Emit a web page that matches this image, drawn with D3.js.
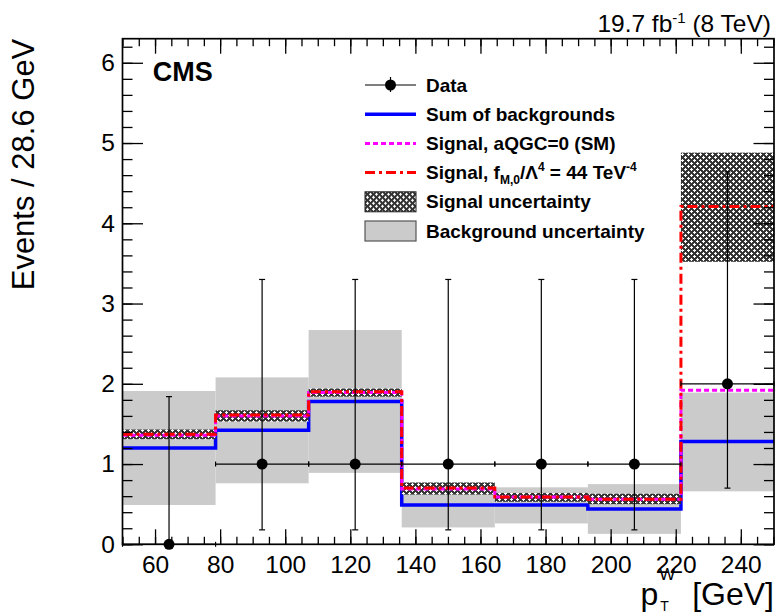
<!DOCTYPE html>
<html>
<head>
<meta charset="utf-8">
<script src="https://cdn.jsdelivr.net/npm/d3@7"></script>
<style>
	body { margin: 0; background: #fff; }
	svg text { font-family: "Liberation Sans", Arial, Helvetica, sans-serif; fill: #000; }
	.axis path.domain { display: none; }
	.axis line { stroke: #000; stroke-width: 1.3; }
</style>
</head>
<body>
<div id="chart"></div>
<script>
	// bins of 28.6 GeV in p_T^W
	var binEdges = [50, 78.6, 107.2, 135.8, 164.4, 193.0, 221.6, 250.2];

	var dataCounts = [0, 1, 1, 1, 1, 1, 2];
	var dataErrLow = [0, 0.82, 0.82, 0.82, 0.82, 0.82, 1.30];
	var dataErrHigh = [1.84, 2.30, 2.30, 2.30, 2.30, 2.30, 2.64];

	var bkgSum = [1.20, 1.42, 1.78, 0.49, 0.49, 0.44, 1.28];
	var bkgUncLow = [0.49, 0.76, 0.89, 0.21, 0.26, 0.13, 0.66];
	var bkgUncHigh = [1.91, 2.08, 2.67, 0.70, 0.71, 0.75, 1.89];

	var signalSM = [1.36, 1.60, 1.89, 0.69, 0.59, 0.56, 1.92];
	var signalAqgc = [1.37, 1.61, 1.90, 0.70, 0.59, 0.56, 4.21];
	var signalUncLow = [1.31, 1.53, 1.84, 0.62, 0.53, 0.50, 3.52];
	var signalUncHigh = [1.43, 1.67, 1.94, 0.77, 0.64, 0.63, 4.88];

	var xTickLabels = [60, 80, 100, 120, 140, 160, 180, 200, 220, 240];
	var yTickLabels = [0, 1, 2, 3, 4, 5, 6];

	var legendLabels = ['Data', 'Sum of backgrounds', 'Signal, aQGC=0 (SM)',
		'Signal, f_M,0/Λ^4 = 44 TeV^-4', 'Signal uncertainty', 'Background uncertainty'];

	(function () {
		"use strict";

		var width = 777, height = 614;
		var frame = { left: 122.5, right: 774, top: 38.7, bottom: 544.3 };

		var x = d3.scaleLinear().domain([50, 250.2]).range([frame.left, frame.right]);
		var y = d3.scaleLinear().domain([0, 6.3]).range([frame.bottom, frame.top]);

		var svg = d3.select('#chart')
			.append('svg')
			.attr('width', width)
			.attr('height', height);

		defineHatch(svg);

		var bins = dataCounts.map(function (count, i) {
			return {
				lo: binEdges[i],
				hi: binEdges[i + 1],
				center: (binEdges[i] + binEdges[i + 1]) / 2,
				count: count,
				errLow: dataErrLow[i],
				errHigh: dataErrHigh[i]
			};
		});

		var plot = svg.append('g');

		// background uncertainty band
		plot.selectAll('.bkg-unc')
			.data(bins)
			.enter()
			.append('rect')
			.classed('bkg-unc', true)
			.attr('x', function (d) { return x(d.lo); })
			.attr('width', function (d) { return x(d.hi) - x(d.lo); })
			.attr('y', function (d, i) { return y(bkgUncHigh[i]); })
			.attr('height', function (d, i) { return y(bkgUncLow[i]) - y(bkgUncHigh[i]); })
			.attr('fill', '#cbcbcb');

		drawStep(plot, bkgSum, { stroke: '#0000ff', width: 3.5 });

		// signal uncertainty band
		plot.selectAll('.sig-unc')
			.data(bins)
			.enter()
			.append('rect')
			.classed('sig-unc', true)
			.attr('x', function (d) { return x(d.lo); })
			.attr('width', function (d) { return x(d.hi) - x(d.lo); })
			.attr('y', function (d, i) { return y(signalUncHigh[i]); })
			.attr('height', function (d, i) { return y(signalUncLow[i]) - y(signalUncHigh[i]); })
			.attr('fill', 'url(#hatch)');

		drawStep(plot, signalSM, { stroke: '#ff00ff', width: 3, dash: '5,3' });
		drawStep(plot, signalAqgc, { stroke: '#ff0000', width: 3, dash: '10,4,3,4' });

		// data points with error bars
		var points = plot.selectAll('.data-point')
			.data(bins)
			.enter()
			.append('g')
			.classed('data-point', true);

		points.append('line')
			.attr('x1', function (d) { return x(d.center); })
			.attr('x2', function (d) { return x(d.center); })
			.attr('y1', function (d) { return y(d.count - d.errLow); })
			.attr('y2', function (d) { return y(d.count + d.errHigh); });

		points.append('line')
			.attr('x1', function (d) { return x(d.lo); })
			.attr('x2', function (d) { return x(d.hi); })
			.attr('y1', function (d) { return y(d.count); })
			.attr('y2', function (d) { return y(d.count); });

		points.append('line')
			.attr('x1', function (d) { return x(d.center) - 3; })
			.attr('x2', function (d) { return x(d.center) + 3; })
			.attr('y1', function (d) { return y(d.count + d.errHigh); })
			.attr('y2', function (d) { return y(d.count + d.errHigh); });

		points.append('line')
			.attr('x1', function (d) { return x(d.center) - 3; })
			.attr('x2', function (d) { return x(d.center) + 3; })
			.attr('y1', function (d) { return y(d.count - d.errLow); })
			.attr('y2', function (d) { return y(d.count - d.errLow); });

		points.selectAll('.hcap')
			.data(function (d) { return [[d.lo, d.count], [d.hi, d.count]]; })
			.enter()
			.append('line')
			.attr('x1', function (p) { return x(p[0]); })
			.attr('x2', function (p) { return x(p[0]); })
			.attr('y1', function (p) { return y(p[1]) - 2.5; })
			.attr('y2', function (p) { return y(p[1]) + 2.5; });

		points.selectAll('line')
			.attr('stroke', '#000')
			.attr('stroke-width', 1.2);

		points.append('circle')
			.attr('cx', function (d) { return x(d.center); })
			.attr('cy', function (d) { return y(d.count); })
			.attr('r', 5.5)
			.attr('fill', '#000');

		drawAxes(svg, x, y, frame);
		drawLegend(svg);
		drawTexts(svg, frame);

		function drawStep(container, values, style) {
			var pts = values.map(function (v, i) { return [binEdges[i], v]; });
			pts.push([binEdges[binEdges.length - 1], values[values.length - 1]]);

			var line = d3.line()
				.x(function (p) { return x(p[0]); })
				.y(function (p) { return y(p[1]); })
				.curve(d3.curveStepAfter);

			container.append('path')
				.attr('d', line(pts))
				.attr('fill', 'none')
				.attr('stroke', style.stroke)
				.attr('stroke-width', style.width)
				.attr('stroke-dasharray', style.dash || null);
		}
	}());

	function defineHatch(svg) {
		var pattern = svg.append('defs')
			.append('pattern')
			.attr('id', 'hatch')
			.attr('patternUnits', 'userSpaceOnUse')
			.attr('width', 6)
			.attr('height', 6);

		pattern.append('rect')
			.attr('width', 6)
			.attr('height', 6)
			.attr('fill', '#333');

		pattern.append('path')
			.attr('d', 'M0,1.5 H3 M1.5,0 V3 M3,4.5 H6 M4.5,3 V6')
			.attr('stroke', '#fff')
			.attr('stroke-width', 1.1)
			.attr('fill', 'none');
	}

	function drawAxes(svg, x, y, frame) {
		var xMinor = d3.range(50, 251, 5);
		var yMinor = d3.range(0, 6.3, 0.2);

		var bottom = svg.append('g')
			.classed('axis', true)
			.attr('transform', 'translate(0,' + frame.bottom + ')');
		bottom.call(d3.axisBottom(x).tickValues(xMinor).tickSizeInner(-7.5).tickSizeOuter(0).tickFormat(''));
		bottom.append('g')
			.call(d3.axisBottom(x).tickValues(xTickLabels).tickSizeInner(-15).tickSizeOuter(0)
				.tickPadding(11).tickFormat(d3.format('d')));

		var top = svg.append('g')
			.classed('axis', true)
			.attr('transform', 'translate(0,' + frame.top + ')');
		top.call(d3.axisTop(x).tickValues(xMinor).tickSizeInner(-7.5).tickSizeOuter(0).tickFormat(''));
		top.append('g')
			.call(d3.axisTop(x).tickValues(xTickLabels).tickSizeInner(-15).tickSizeOuter(0).tickFormat(''));

		var left = svg.append('g')
			.classed('axis', true)
			.attr('transform', 'translate(' + frame.left + ',0)');
		left.call(d3.axisLeft(y).tickValues(yMinor).tickSizeInner(-10).tickSizeOuter(0).tickFormat(''));
		left.append('g')
			.call(d3.axisLeft(y).tickValues(yTickLabels).tickSizeInner(-20.5).tickSizeOuter(0)
				.tickPadding(7.5).tickFormat(d3.format('d')));

		var right = svg.append('g')
			.classed('axis', true)
			.attr('transform', 'translate(' + frame.right + ',0)');
		right.call(d3.axisRight(y).tickValues(yMinor).tickSizeInner(-10).tickSizeOuter(0).tickFormat(''));
		right.append('g')
			.call(d3.axisRight(y).tickValues(yTickLabels).tickSizeInner(-20.5).tickSizeOuter(0).tickFormat(''));

		svg.selectAll('.axis text')
			.attr('font-family', '"Liberation Sans", Arial, sans-serif')
			.attr('font-size', 24.5);

		svg.append('rect')
			.attr('x', frame.left)
			.attr('y', frame.top)
			.attr('width', frame.right - frame.left)
			.attr('height', frame.bottom - frame.top)
			.attr('fill', 'none')
			.attr('stroke', '#000')
			.attr('stroke-width', 1.7);
	}

	function drawLegend(svg) {
		var rowY = d3.scalePoint().domain(d3.range(legendLabels.length)).range([85, 231]);
		var symX0 = 365, symX1 = 416, textX = 426;

		var rows = svg.append('g')
			.selectAll('.legend-row')
			.data(legendLabels)
			.enter()
			.append('g')
			.classed('legend-row', true)
			.attr('transform', function (d, i) { return 'translate(0,' + rowY(i) + ')'; });

		rows.each(function (label, i) {
			var row = d3.select(this);
			if (i === 0) {
				row.append('line').attr('x1', symX0).attr('x2', symX1).attr('y1', 0).attr('y2', 0)
					.attr('stroke', '#000').attr('stroke-width', 1.2);
				row.append('line').attr('x1', (symX0 + symX1) / 2).attr('x2', (symX0 + symX1) / 2)
					.attr('y1', -8).attr('y2', 7).attr('stroke', '#000').attr('stroke-width', 1.2);
				row.append('circle').attr('cx', (symX0 + symX1) / 2).attr('cy', 0).attr('r', 5.5).attr('fill', '#000');
			} else if (i === 1) {
				row.append('line').attr('x1', symX0).attr('x2', symX1).attr('y1', 0).attr('y2', 0)
					.attr('stroke', '#0000ff').attr('stroke-width', 3.5);
			} else if (i === 2) {
				row.append('line').attr('x1', symX0).attr('x2', symX1).attr('y1', 0).attr('y2', 0)
					.attr('stroke', '#ff00ff').attr('stroke-width', 3).attr('stroke-dasharray', '5,3');
			} else if (i === 3) {
				row.append('line').attr('x1', symX0).attr('x2', symX1).attr('y1', 0).attr('y2', 0)
					.attr('stroke', '#ff0000').attr('stroke-width', 3).attr('stroke-dasharray', '10,4,3,4');
			} else if (i === 4) {
				row.append('rect').attr('x', symX0).attr('y', -10).attr('width', symX1 - symX0).attr('height', 20)
					.attr('fill', 'url(#hatch)').attr('stroke', '#222').attr('stroke-width', 1);
			} else {
				row.append('rect').attr('x', symX0).attr('y', -10).attr('width', symX1 - symX0).attr('height', 20)
					.attr('fill', '#cbcbcb').attr('stroke', '#555').attr('stroke-width', 1.2);
			}

			var text = row.append('text')
				.attr('x', textX)
				.attr('y', 6.5)
				.attr('font-size', 19)
				.attr('font-weight', 'bold');

			if (i === 3) {
				text.append('tspan').text('Signal, f');
				text.append('tspan').attr('font-size', 12).attr('dy', 5).text('M,0');
				text.append('tspan').attr('dy', -5).text('/Λ');
				text.append('tspan').attr('font-size', 12).attr('dy', -8).text('4');
				text.append('tspan').attr('dy', 8).text(' = 44 TeV');
				text.append('tspan').attr('font-size', 12).attr('dy', -8).text('-4');
			} else {
				text.text(label);
			}
		});
	}

	function drawTexts(svg, frame) {
		svg.append('text')
			.attr('x', 152.7)
			.attr('y', 81)
			.attr('font-size', 27)
			.attr('font-weight', 'bold')
			.text('CMS');

		var lumi = svg.append('text')
			.attr('x', 771)
			.attr('y', 32)
			.attr('font-size', 24.5)
			.attr('text-anchor', 'end');
		lumi.append('tspan').text('19.7 fb');
		lumi.append('tspan').attr('font-size', 15).attr('dy', -9).text('-1');
		lumi.append('tspan').attr('dy', 9).text(' (8 TeV)');

		svg.append('text')
			.attr('transform', 'translate(34,' + frame.top + ') rotate(-90)')
			.attr('text-anchor', 'end')
			.attr('font-size', 31)
			.text('Events / 28.6 GeV');

		// x title: "[GeV]" right aligned, then p with stacked W / T scripts
		var unit = svg.append('text')
			.attr('x', frame.right)
			.attr('y', 605)
			.attr('font-size', 32)
			.attr('text-anchor', 'end')
			.text('[GeV]');
		var scriptX = frame.right - unit.node().getComputedTextLength() - 33;

		svg.append('text')
			.attr('x', scriptX - 1)
			.attr('y', 605)
			.attr('font-size', 32)
			.attr('text-anchor', 'end')
			.text('p');
		svg.append('text')
			.attr('x', scriptX)
			.attr('y', 580)
			.attr('font-size', 17)
			.text('W');
		svg.append('text')
			.attr('x', scriptX + 1)
			.attr('y', 611)
			.attr('font-size', 14)
			.text('T');
	}
</script>
</body>
</html>
